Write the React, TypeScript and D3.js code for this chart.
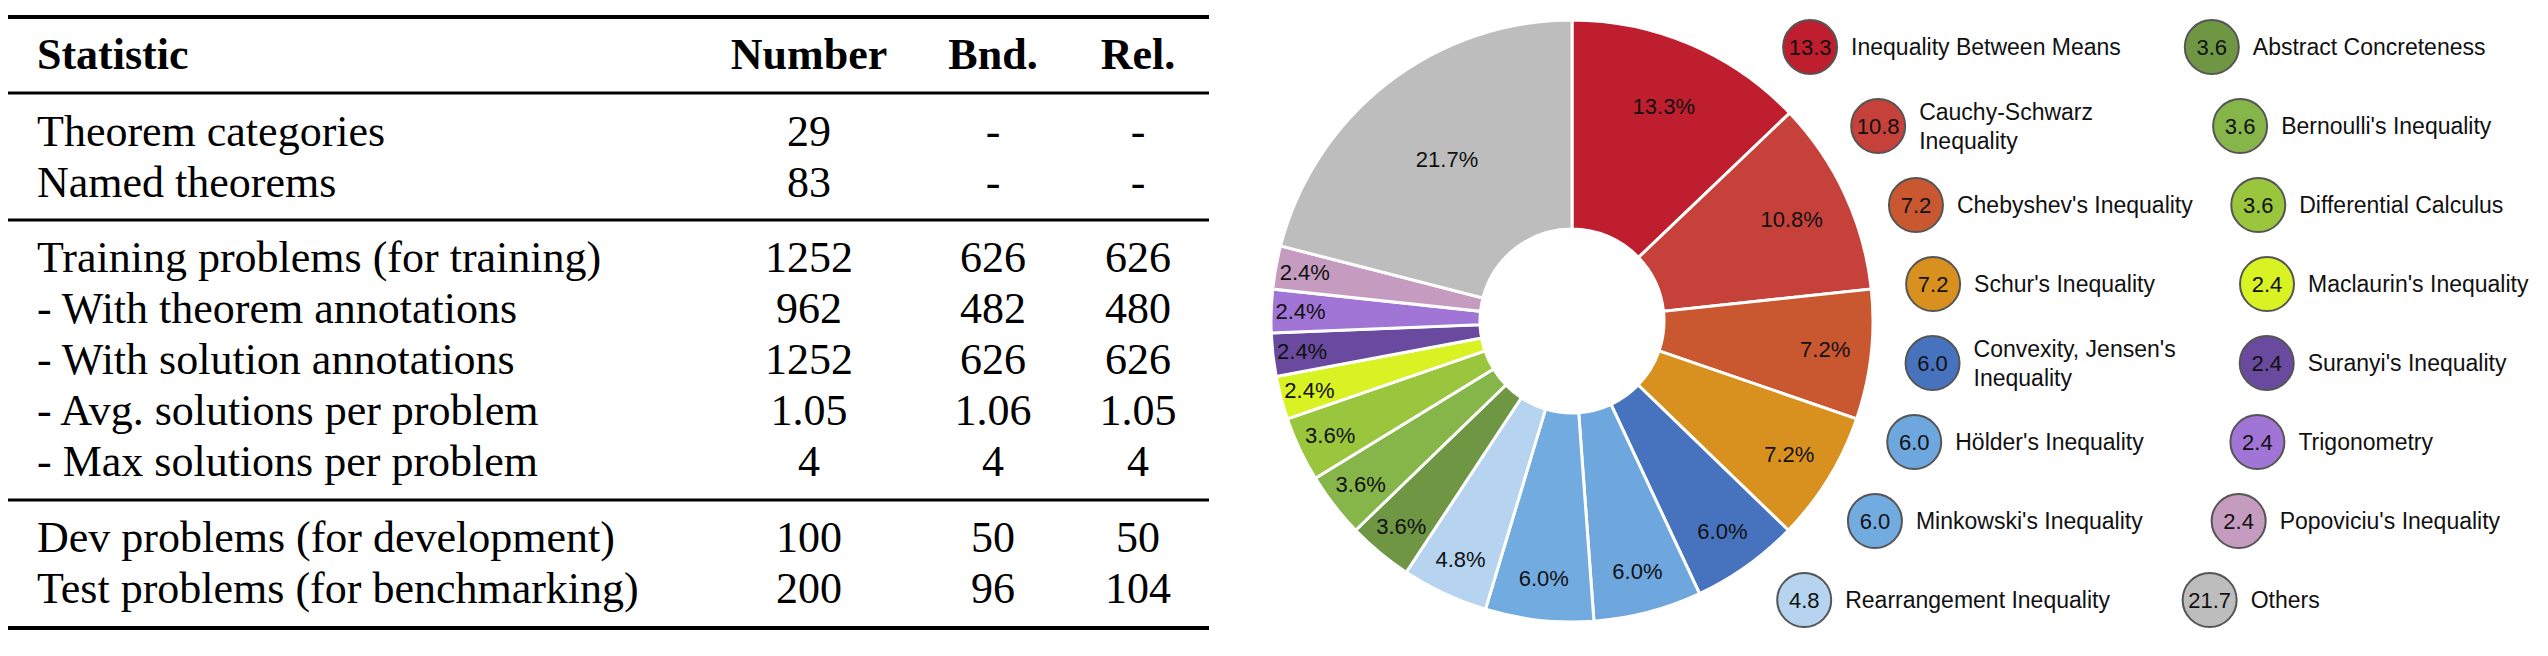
import { useRef, useEffect } from "react";
import * as d3 from "d3";

const tableHeader = ["Statistic", "Number", "Bnd.", "Rel."];
const groupA = [
  ["Theorem categories", "29", "-", "-"],
  ["Named theorems", "83", "-", "-"],
];
const groupB = [
  ["Training problems (for training)", "1252", "626", "626"],
  ["- With theorem annotations", "962", "482", "480"],
  ["- With solution annotations", "1252", "626", "626"],
  ["- Avg.  solutions per problem", "1.05", "1.06", "1.05"],
  ["- Max solutions per problem", "4", "4", "4"],
];
const groupC = [
  ["Dev problems (for development)", "100", "50", "50"],
  ["Test problems (for benchmarking)", "200", "96", "104"],
];

const categories = [
  "Inequality Between Means", "Cauchy-Schwarz\nInequality", "Chebyshev's Inequality", "Schur's Inequality",
  "Convexity, Jensen's\nInequality", "Hölder's Inequality", "Minkowski's Inequality", "Rearrangement Inequality",
  "Abstract Concreteness", "Bernoulli's Inequality", "Differential Calculus", "Maclaurin's Inequality",
  "Suranyi's Inequality", "Trigonometry", "Popoviciu's Inequality", "Others",
];
const shares = [13.3, 10.8, 7.2, 7.2, 6.0, 6.0, 6.0, 4.8, 3.6, 3.6, 3.6, 2.4, 2.4, 2.4, 2.4, 21.7];
const colors = [
  "#be1e2d", "#c5413a", "#c9572f", "#d8911f", "#4773be", "#6ea6de", "#72abe0", "#b6d4f0",
  "#6e9643", "#86b64a", "#9ac63e", "#d9f224", "#6a4a9e", "#a175d6", "#c59cc0", "#bdbdbd",
];

export default function App() {
  const ref = useRef<SVGSVGElement | null>(null);

  useEffect(() => {
    const svg = d3.select(ref.current);
    svg.selectAll("*").remove();

    // ---- table ----
    const t = svg.append("g").attr("font-family", "'Liberation Serif', 'Times New Roman', serif");
    const colX = [37, 809, 993, 1138];
    const rule = (y: number, w: number) =>
      t.append("line").attr("x1", 8).attr("x2", 1209).attr("y1", y).attr("y2", y)
        .attr("stroke", "#000").attr("stroke-width", w);
    const row = (cells: string[], y: number, bold = false) =>
      cells.forEach((c, i) =>
        t.append("text").attr("x", colX[i]).attr("y", y)
          .attr("text-anchor", i === 0 ? "start" : "middle")
          .attr("dominant-baseline", "central")
          .attr("font-size", 44).attr("font-weight", bold ? "bold" : "normal")
          .text(c));
    rule(17, 4);
    row(tableHeader, 54, true);
    rule(93, 3);
    groupA.forEach((r, i) => row(r, 131 + i * 51));
    rule(220, 3);
    groupB.forEach((r, i) => row(r, 257 + i * 51));
    rule(500, 3);
    groupC.forEach((r, i) => row(r, 537 + i * 51));
    rule(628, 4);

    // ---- donut ----
    const cx = 1572, cy = 321, R = 301, r0 = 92;
    const pie = d3.pie<number>().value((d) => d).sort(null);
    const arcs = pie(shares);
    const arc = d3.arc<d3.PieArcDatum<number>>().innerRadius(r0).outerRadius(R);
    const g = svg.append("g").attr("transform", `translate(${cx},${cy})`)
      .attr("font-family", "'Liberation Sans', Arial, sans-serif");
    g.selectAll("path").data(arcs).enter().append("path")
      .attr("d", arc).attr("fill", (_, i) => colors[i])
      .attr("stroke", "#fff").attr("stroke-width", 3);
    g.selectAll("text").data(arcs).enter().append("text")
      .attr("transform", (d) => {
        const a = (d.startAngle + d.endAngle) / 2;
        const lr = 280 - 3.5 * d.data;
        return `translate(${lr * Math.sin(a)},${-lr * Math.cos(a)})`;
      })
      .attr("text-anchor", "middle").attr("dominant-baseline", "central")
      .attr("font-size", 22).attr("fill", "#111")
      .text((d) => d.data.toFixed(1) + "%");

    // ---- legend ----
    const lg = svg.append("g").attr("font-family", "'Liberation Sans', Arial, sans-serif");
    const rowY = (k: number) => 47 + k * 79;
    const ringR = [363, 696];
    categories.forEach((name, i) => {
      const col = Math.floor(i / 8), k = i % 8;
      const y = rowY(k);
      const dy = y - cy;
      const x = cx + Math.sqrt(ringR[col] ** 2 - dy * dy);
      lg.append("circle").attr("cx", x).attr("cy", y).attr("r", 27)
        .attr("fill", colors[i]).attr("stroke", "#555").attr("stroke-width", 2);
      lg.append("text").attr("x", x).attr("y", y).attr("text-anchor", "middle")
        .attr("dominant-baseline", "central").attr("font-size", 22).attr("fill", "#111")
        .text(shares[i].toFixed(1));
      const lines = name.split("\n");
      lines.forEach((ln, j) => {
        lg.append("text").attr("x", x + 41).attr("y", y + (j - (lines.length - 1) / 2) * 29)
          .attr("dominant-baseline", "central").attr("font-size", 23).attr("fill", "#111")
          .text(ln);
      });
    });
  }, []);

  return <svg ref={ref} width={2548} height={656} style={{ display: "block", margin: -8 }}></svg>;
}
